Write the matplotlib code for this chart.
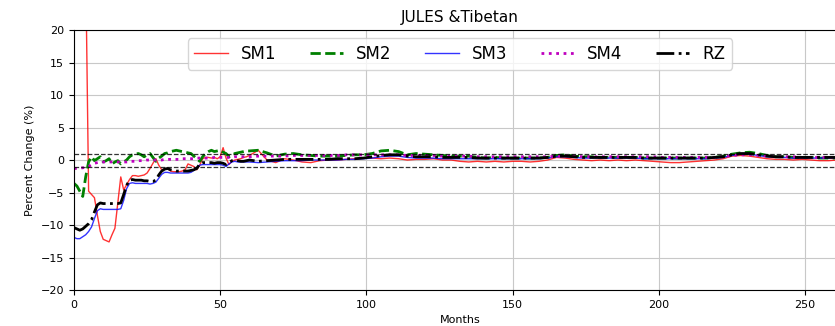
import numpy as np
import matplotlib
matplotlib.use("Agg")
import matplotlib.pyplot as plt

# months: monthly for the first five years, then every third month
months = np.concatenate([np.arange(0, 60), np.arange(60, 262, 3)])

sm1 = [60, 55, 50, 40, 30, -4.8, -5.3, -5.8, -8.5, -11.0,
       -12.2, -12.4, -12.6, -11.5, -10.5, -6.5, -2.6, -4.6, -3.8, -3.0,
       -2.4, -2.4, -2.5, -2.4, -2.3, -2.0, -1.3, -0.5, 0.2, -0.8,
       -1.5, -1.4, -1.3, -1.7, -1.8, -1.8, -1.8, -1.7, -1.5, -0.6,
       -0.8, -1.0, -1.5, -0.8, 0.2, 0.4, 0.4, 0.3, 0.4, 0.2,
       0.5, 1.9, 0.3, -0.7, -0.2, 0.0, 0.1, 0.2, 0.4, 0.5,
       0.7, 1.5, 0.0, -0.4, 0.2, 0.0, -0.3, -0.4, -0.1, 0.0,
       0.0, 0.1, 0.2, 0.3, 0.3, 0.2, 0.3, 0.2, 0.0, 0.1,
       0.1, 0.2, 0.0, 0.0, -0.2, -0.3, -0.2, -0.3, -0.2, -0.3,
       -0.2, -0.2, -0.3, -0.2, 0.0, 0.4, 0.3, 0.1, 0.0, -0.1,
       0.0, -0.1, 0.0, -0.1, 0.0, -0.1, -0.2, -0.3, -0.4, -0.4,
       -0.3, -0.2, -0.1, 0.0, 0.2, 0.6, 0.7, 0.6, 0.4, 0.2,
       0.1, 0.1, 0.0, 0.1, 0.0, -0.1, -0.1, 0.0]

sm2 = [-3.6, -4.0, -4.8, -5.6, -2.6, -0.3, 0.5, -0.1, 0.2, 0.5,
       -0.3, -0.1, 0.2, -0.6, -0.3, -0.1, -0.6, -0.3, 0.0, 0.5,
       0.8, 0.9, 1.0, 0.8, 0.5, 0.8, 1.0, 0.4, -0.2, 0.3,
       0.6, 1.0, 1.1, 1.3, 1.4, 1.5, 1.4, 1.3, 1.2, 1.1,
       1.0, 0.6, 0.2, -0.2, 0.5, 1.0, 1.3, 1.5, 1.3, 1.4,
       1.5, 1.2, 1.0, 0.5, 0.7, 1.0, 1.1, 1.2, 1.3, 1.4,
       1.4, 1.5, 1.1, 0.6, 0.9, 1.0, 0.8, 0.7, 0.6, 0.6,
       0.6, 0.7, 0.8, 0.8, 1.0, 1.4, 1.5, 1.3, 0.8, 1.0,
       0.9, 0.8, 0.7, 0.6, 0.6, 0.6, 0.4, 0.3, 0.4, 0.3,
       0.3, 0.3, 0.3, 0.3, 0.4, 0.7, 0.8, 0.6, 0.5, 0.5,
       0.4, 0.4, 0.4, 0.4, 0.4, 0.3, 0.3, 0.3, 0.3, 0.3,
       0.3, 0.3, 0.3, 0.4, 0.6, 0.9, 1.1, 1.2, 1.0, 0.7,
       0.5, 0.5, 0.4, 0.4, 0.4, 0.3, 0.3, 0.3]

sm3 = [-11.9, -12.1, -12.1, -11.8, -11.5, -11.0, -10.3, -9.0, -7.8, -7.5,
       -7.6, -7.6, -7.6, -7.6, -7.6, -7.6, -7.5, -6.2, -4.4, -3.6,
       -3.5, -3.6, -3.6, -3.6, -3.6, -3.6, -3.7, -3.6, -3.4, -2.8,
       -2.2, -1.9, -1.9, -2.0, -2.0, -2.0, -2.0, -2.0, -2.0, -2.0,
       -1.9, -1.6, -1.1, -0.8, -0.7, -0.7, -0.7, -0.7, -0.7, -0.7,
       -0.7, -0.8, -1.0, -0.6, -0.3, -0.2, -0.3, -0.3, -0.3, -0.3,
       -0.3, -0.4, -0.3, -0.2, -0.1, -0.1, -0.1, 0.0, 0.0, 0.0,
       0.0, 0.1, 0.1, 0.2, 0.3, 0.5, 0.6, 0.6, 0.4, 0.3,
       0.3, 0.3, 0.2, 0.2, 0.2, 0.2, 0.2, 0.2, 0.2, 0.2,
       0.2, 0.2, 0.2, 0.2, 0.3, 0.5, 0.5, 0.4, 0.3, 0.3,
       0.3, 0.3, 0.3, 0.3, 0.3, 0.2, 0.2, 0.2, 0.2, 0.2,
       0.2, 0.2, 0.2, 0.3, 0.4, 0.7, 0.9, 0.9, 0.7, 0.5,
       0.4, 0.4, 0.3, 0.3, 0.3, 0.3, 0.3, 0.3]

sm4 = [-1.3, -1.3, -1.2, -1.2, -1.1, -1.0, -0.7, -0.5, -0.4, -0.3,
       -0.3, -0.3, -0.3, -0.3, -0.3, -0.3, -0.3, -0.3, -0.3, -0.2,
       -0.2, -0.2, -0.1, -0.1, -0.1, 0.0, 0.0, 0.0, 0.0, 0.0,
       0.0, 0.1, 0.1, 0.1, 0.1, 0.1, 0.1, 0.2, 0.2, 0.2,
       0.2, 0.2, 0.3, 0.3, 0.3, 0.3, 0.3, 0.3, 0.4, 0.4,
       0.4, 0.4, 0.4, 0.4, 0.4, 0.5, 0.5, 0.5, 0.5, 0.5,
       0.5, 0.6, 0.6, 0.6, 0.6, 0.7, 0.7, 0.7, 0.7, 0.7,
       0.7, 0.8, 0.8, 0.8, 0.8, 0.8, 0.8, 0.8, 0.7, 0.7,
       0.7, 0.7, 0.6, 0.6, 0.6, 0.6, 0.5, 0.5, 0.5, 0.5,
       0.5, 0.5, 0.5, 0.5, 0.5, 0.6, 0.6, 0.6, 0.5, 0.5,
       0.5, 0.5, 0.5, 0.5, 0.5, 0.5, 0.5, 0.4, 0.4, 0.4,
       0.4, 0.4, 0.4, 0.4, 0.5, 0.7, 0.8, 0.8, 0.7, 0.6,
       0.5, 0.5, 0.5, 0.4, 0.4, 0.4, 0.4, 0.4]

rz = [-10.4, -10.6, -10.8, -10.6, -10.2, -9.8, -9.2, -8.0, -6.9, -6.6,
      -6.7, -6.7, -6.7, -6.7, -6.7, -6.7, -6.6, -5.3, -3.9, -3.1,
      -3.0, -3.1, -3.1, -3.1, -3.2, -3.2, -3.3, -3.3, -3.1, -2.3,
      -1.7, -1.4, -1.3, -1.5, -1.6, -1.7, -1.7, -1.7, -1.7, -1.7,
      -1.6, -1.5, -1.3, -0.6, -0.4, -0.4, -0.4, -0.4, -0.5, -0.4,
      -0.4, -0.5, -0.7, -0.4, -0.1, 0.0, -0.1, -0.2, -0.2, -0.1,
      0.0, -0.2, -0.1, 0.0, 0.1, 0.1, 0.1, 0.1, 0.1, 0.1,
      0.2, 0.2, 0.2, 0.3, 0.5, 0.7, 0.8, 0.8, 0.6, 0.5,
      0.5, 0.5, 0.4, 0.4, 0.4, 0.4, 0.3, 0.3, 0.3, 0.3,
      0.3, 0.3, 0.3, 0.3, 0.4, 0.6, 0.6, 0.5, 0.4, 0.4,
      0.4, 0.4, 0.4, 0.4, 0.4, 0.3, 0.3, 0.3, 0.3, 0.3,
      0.3, 0.3, 0.3, 0.4, 0.5, 0.8, 1.0, 1.0, 0.8, 0.6,
      0.5, 0.5, 0.4, 0.4, 0.4, 0.4, 0.4, 0.4]

fig = plt.figure(figsize=(8.35, 3.26), dpi=100)
ax = fig.add_axes([0.0886, 0.1104, 0.9245, 0.7975])

ax.plot(months, sm1, color='red', lw=1, alpha=0.8, label='SM1')
ax.plot(months, sm2, color='green', ls='--', lw=2, label='SM2')
ax.plot(months, sm3, color='blue', lw=1, alpha=0.8, label='SM3')
ax.plot(months, sm4, color='m', ls=':', lw=2, label='SM4')
ax.plot(months, rz, color='k', ls='-.', lw=2, label='RZ')
ax.axhline(1, color='k', ls='--', lw=0.9, alpha=0.8)
ax.axhline(-1, color='k', ls='--', lw=0.9, alpha=0.8)

ax.set_xlim(0, 264)
ax.set_ylim(-20, 20)
ax.set_xticks([0, 50, 100, 150, 200, 250])
ax.set_yticks([-20, -15, -10, -5, 0, 5, 10, 15, 20])
ax.tick_params(labelsize=8)
ax.grid(True, color='#c8c8c8')
ax.set_xlabel('Months', fontsize=8)
ax.set_ylabel('Percent Change (%)', fontsize=8)
ax.set_title('JULES &Tibetan', fontsize=11)
ax.legend(loc='upper center', ncol=5, fontsize=12)

fig.savefig('out.png', dpi=100)
